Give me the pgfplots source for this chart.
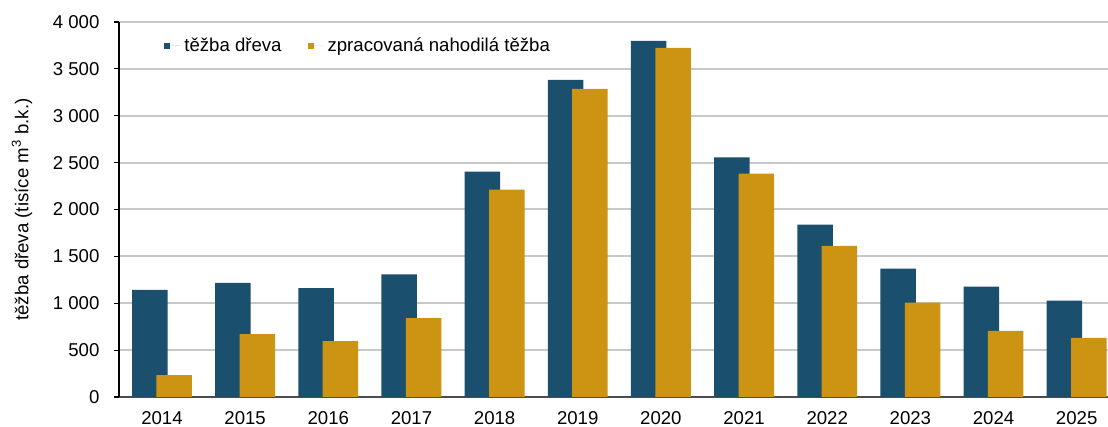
\documentclass[border=0pt]{standalone}
\usepackage{pgfplots}
\pgfplotsset{compat=1.18}
\usepackage{fontspec}
\setmainfont{Liberation Sans}
\definecolor{darkb}{RGB}{26,79,110}
\definecolor{gold}{RGB}{204,148,18}
\definecolor{gridg}{RGB}{200,200,200}
\begin{document}
\fontsize{9.3}{11}\selectfont
\begin{tikzpicture}
\useasboundingbox (0,0) rectangle (554pt,213.5pt);
\begin{axis}[
  at={(59.5pt,15pt)}, anchor=south west,
  scale only axis, width=494.5pt, height=187.5pt,
  xmin=-0.517, xmax=11.377, ymin=0, ymax=4000,
  ybar, bar width=17.75pt,
  axis x line*=bottom, axis y line*=left,
  axis line style={-},
  x axis line style={draw=black!70, line width=1pt},
  y axis line style={draw=black, line width=0.6pt},
  xtick={0,...,11}, xticklabels={2014,2015,2016,2017,2018,2019,2020,2021,2022,2023,2024,2025},
  xtick style={draw=none},
  ytick={0,500,...,4000},
  yticklabels={0,500,1 000,1 500,2 000,2 500,3 000,3 500,4 000},
  ytick style={draw=black, line width=0.6pt},
  tick align=outside, major tick length=2.5pt,
  ymajorgrids, grid style={draw=gridg, line width=1pt},
  yticklabel style={font=\fontsize{9.3}{11}\selectfont, xshift=-4pt},
  xticklabel style={font=\fontsize{9.3}{11}\selectfont, yshift=-1.5pt},
  ylabel={těžba dřeva (tisíce m\textsuperscript{3} b.k.)},
  every axis y label/.style={at={(rel axis cs:0,0.5)}, xshift=-48.5pt, rotate=90, anchor=center, font=\fontsize{9.3}{11}\selectfont},
  legend style={draw=none, fill=none, at={(19.5pt,175.5pt)}, anchor=west,
    font=\fontsize{9.3}{11}\selectfont, legend columns=2,
    /tikz/every even column/.append style={column sep=11pt}},
  legend image code/.code={\fill[#1] (0pt,-1.5pt) rectangle (3pt,1.5pt); \path (3pt,0) -- (8pt,0);},
]
\addplot[fill=darkb, draw=none, bar shift=-6.1pt] coordinates {
(0,1142) (1,1217) (2,1160) (3,1309) (4,2403) (5,3383) (6,3799) (7,2556) (8,1838) (9,1369) (10,1177) (11,1028)};
\addplot[fill=gold, draw=none, bar shift=6.1pt] coordinates {
(0,233) (1,670) (2,595) (3,840) (4,2211) (5,3287) (6,3724) (7,2382) (8,1611) (9,1007) (10,705) (11,631)};
\legend{těžba dřeva, zpracovaná nahodilá těžba}
\end{axis}
\end{tikzpicture}
\end{document}
